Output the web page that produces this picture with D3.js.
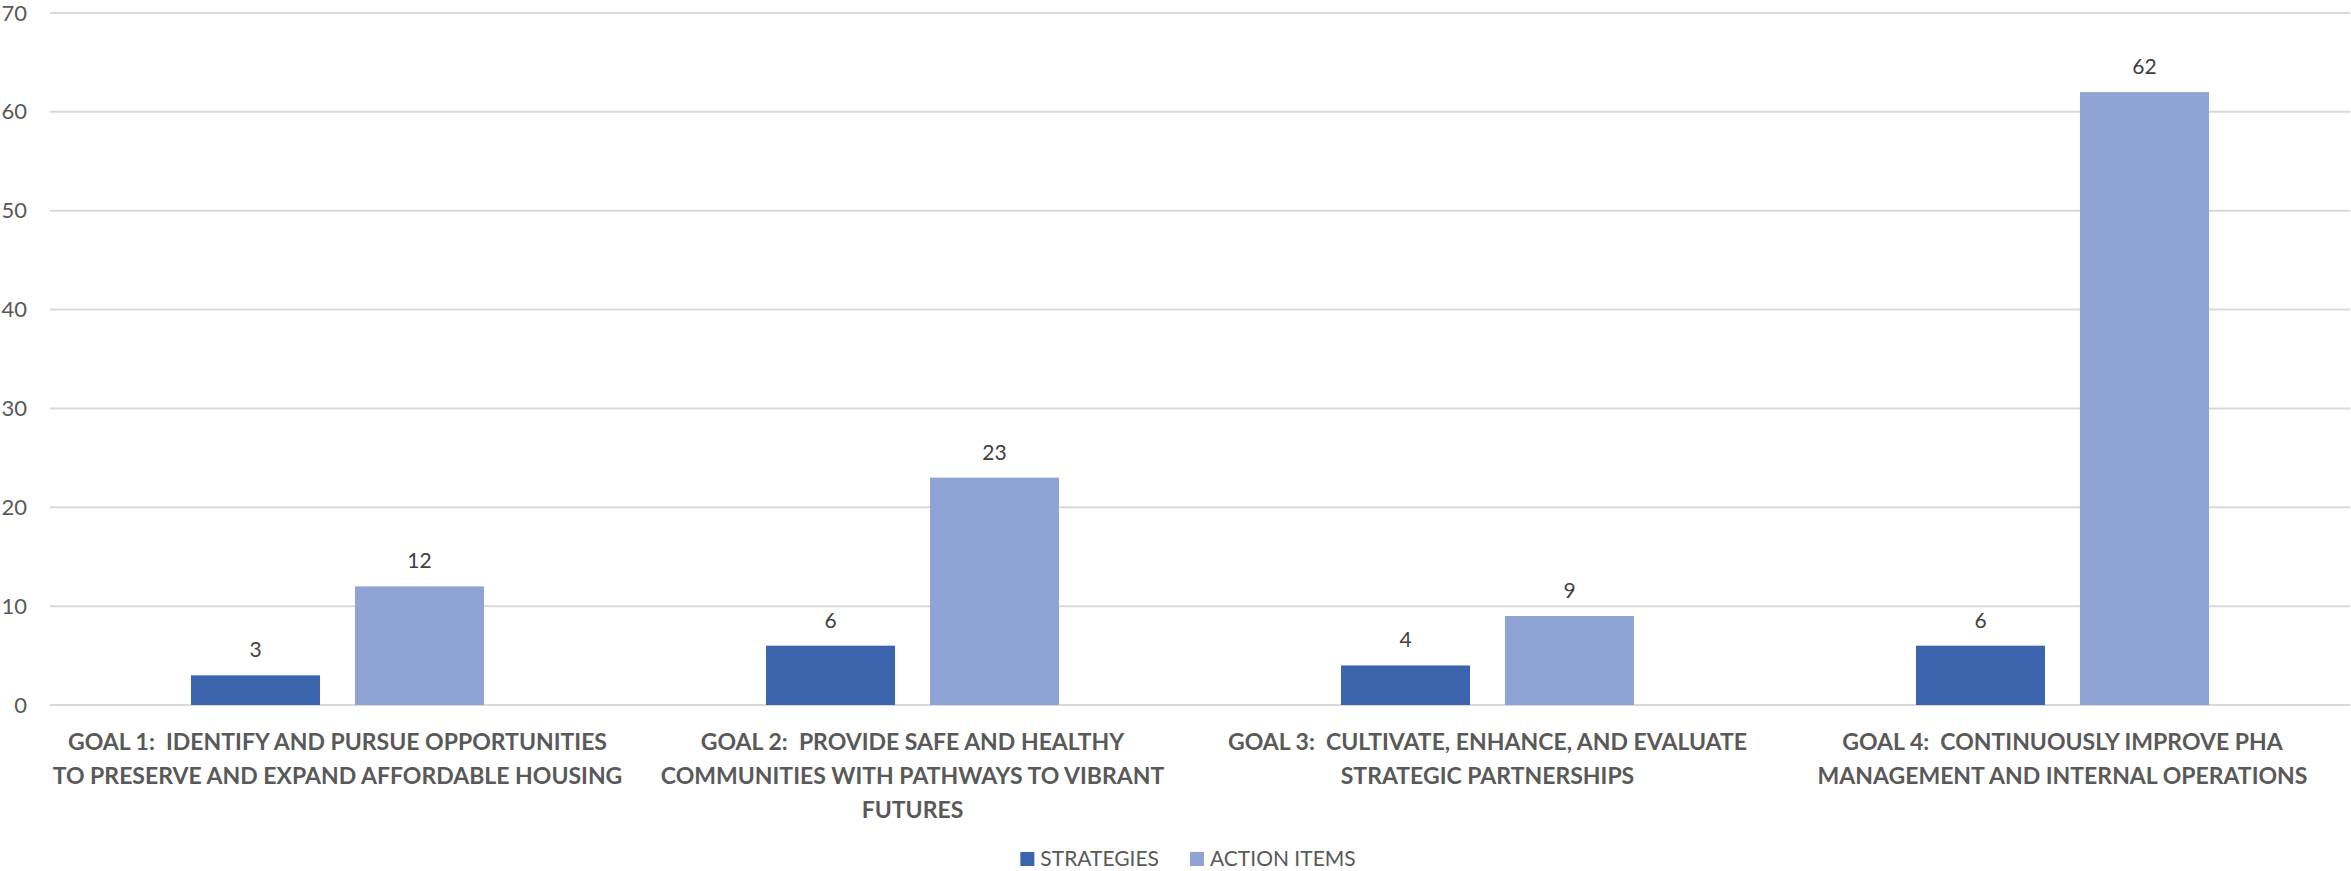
<!DOCTYPE html>
<html lang="en">
<head>
    <meta charset="UTF-8">
    <title>Goals: Strategies and Action Items</title>
    <script src="https://d3js.org/d3.v7.min.js"></script>
    <style>
        body{
            margin:0;
            background:#fff;
        }
        text{
            font-family: Lato, "Open Sans", sans-serif;
        }
    </style>
</head>
<body>
    <div id="chart-container"></div>

    <script>
        // Chart data
        const goals = ["Goal 1", "Goal 2", "Goal 3", "Goal 4"];
        const goalLabels = [
            ["GOAL 1:  IDENTIFY AND PURSUE OPPORTUNITIES", "TO PRESERVE AND EXPAND AFFORDABLE HOUSING"],
            ["GOAL 2:  PROVIDE SAFE AND HEALTHY", "COMMUNITIES WITH PATHWAYS TO VIBRANT", "FUTURES"],
            ["GOAL 3:  CULTIVATE, ENHANCE, AND EVALUATE", "STRATEGIC PARTNERSHIPS"],
            ["GOAL 4:  CONTINUOUSLY IMPROVE PHA", "MANAGEMENT AND INTERNAL OPERATIONS"]
        ];
        const seriesNames = ["STRATEGIES", "ACTION ITEMS"];
        const strategies = [3, 6, 4, 6];
        const actionItems = [12, 23, 9, 62];
        const yTicks = [0, 10, 20, 30, 40, 50, 60, 70];

        const colors = ["#3b64ad", "#8fa4d4"];

        const width = 2351, height = 871;
        const margin = { top: 13, right: 1, bottom: 166, left: 50 };

        const svg = d3.select("#chart-container")
            .append("svg")
            .attr("width", width)
            .attr("height", height);

        // Scales
        const x0 = d3.scaleBand()
            .domain(goals)
            .range([margin.left, width - margin.right])
            .padding(0);

        const x1 = d3.scaleBand()
            .domain(seriesNames)
            .range([0, x0.bandwidth()])
            .paddingInner(0.213)
            .paddingOuter(0.86);

        const yScale = d3.scaleLinear()
            .domain([0, 70])
            .range([height - margin.bottom, margin.top]);

        // Gridlines
        svg.append("g")
            .selectAll("line")
            .data(yTicks)
            .enter().append("line")
            .attr("x1", margin.left)
            .attr("x2", width - margin.right)
            .attr("y1", d => yScale(d))
            .attr("y2", d => yScale(d))
            .attr("stroke", "#d9d9d9")
            .attr("stroke-width", 2);

        // Y axis labels
        const yAxis = d3.axisLeft(yScale).tickValues(yTicks).tickSize(0).tickPadding(23);
        const yG = svg.append("g")
            .attr("transform", `translate(${margin.left}, 0)`)
            .call(yAxis);
        yG.select(".domain").remove();
        yG.selectAll("text")
            .style("font-size", "22px")
            .style("font-family", "Lato, 'Open Sans', sans-serif")
            .attr("fill", "#595959");

        // Bars
        const rows = goals.map((g, i) => ({ goal: g, values: [strategies[i], actionItems[i]] }));

        const groups = svg.append("g")
            .selectAll("g")
            .data(rows)
            .enter().append("g")
            .attr("transform", d => `translate(${x0(d.goal)}, 0)`);

        groups.selectAll("rect")
            .data(d => d.values.map((v, j) => ({ name: seriesNames[j], value: v, j: j })))
            .enter().append("rect")
            .attr("x", d => x1(d.name))
            .attr("y", d => yScale(d.value))
            .attr("width", x1.bandwidth())
            .attr("height", d => yScale(0) - yScale(d.value))
            .attr("fill", d => colors[d.j]);

        // Value labels
        groups.selectAll("text.value")
            .data(d => d.values.map((v, j) => ({ name: seriesNames[j], value: v })))
            .enter().append("text")
            .attr("class", "value")
            .attr("x", d => x1(d.name) + x1.bandwidth() / 2)
            .attr("y", d => yScale(d.value) - 18)
            .attr("text-anchor", "middle")
            .style("font-size", "21px")
            .attr("fill", "#404040")
            .text(d => d.value);

        // Category labels
        const catG = svg.append("g")
            .selectAll("text")
            .data(goals)
            .enter().append("text")
            .attr("x", d => x0(d) + x0.bandwidth() / 2)
            .attr("y", yScale(0) + 45)
            .attr("text-anchor", "middle")
            .style("font-size", "23px")
            .style("font-weight", "bold")
            .style("white-space", "pre")
            .attr("fill", "#595959");

        catG.selectAll("tspan")
            .data((d, i) => goalLabels[i])
            .enter().append("tspan")
            .attr("x", function () { return d3.select(this.parentNode).attr("x"); })
            .attr("dy", (d, i) => i === 0 ? 0 : 34)
            .text(d => d);

        // Legend
        const legend = svg.append("g");
        const items = legend.selectAll("g")
            .data(seriesNames)
            .enter().append("g");

        items.append("rect")
            .attr("width", 14)
            .attr("height", 14)
            .attr("y", -14)
            .attr("fill", (d, i) => colors[i]);

        items.append("text")
            .attr("x", 20)
            .style("font-size", "21px")
            .attr("fill", "#595959")
            .text(d => d);

        let offset = 0;
        items.each(function () {
            const w = this.getBBox().width;
            d3.select(this).attr("transform", `translate(${offset}, 0)`);
            offset += w + 31;
        });
        const legendWidth = offset - 31;
        legend.attr("transform", `translate(${1188 - legendWidth / 2}, 866)`);
    </script>
</body>
</html>
